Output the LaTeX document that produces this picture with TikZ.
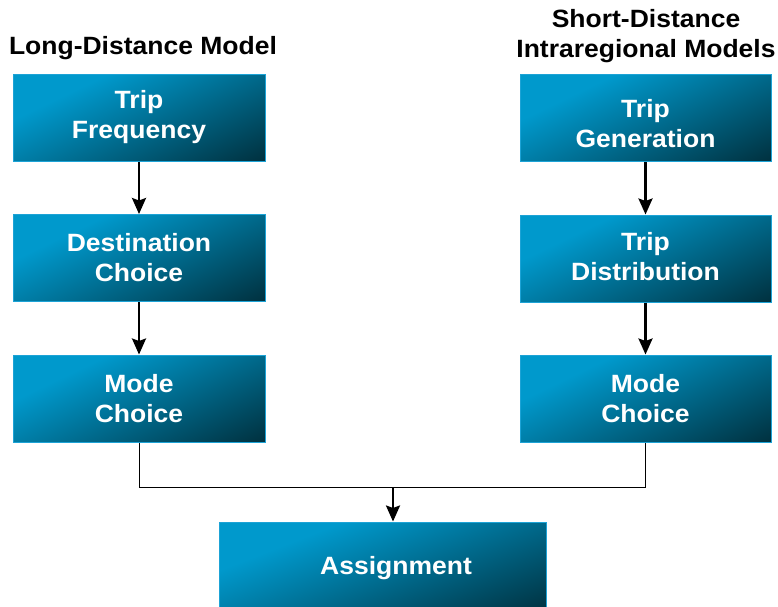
\documentclass[tikz,border=0pt]{standalone}
\usepackage{fontspec}
\setmainfont{Liberation Sans}[FakeStretch=1.06]
\usetikzlibrary{arrows.meta}

\definecolor{boxedge}{HTML}{1DA3D6}

% diagonal blue shading of the process boxes: light at the upper left,
% dark teal in the lower right corner (path spans 25bp..75bp)
\pgfdeclarefunctionalshading{boxshade}{\pgfpointorigin}{\pgfpoint{100bp}{100bp}}{}{
  25 sub 50 div 1 exch sub 0.42 mul
  exch 25 sub 50 div 0.58 mul add
  0.22 sub 0.78 div
  dup 0 lt {pop 0} if
  dup 1 gt {pop 1} if
  dup 0.41 mul 0.6 exch sub
  exch 0.555 mul 0.8 exch sub
  0 3 1 roll
}

\tikzset{
  stage/.style={draw=boxedge, line width=1pt, shading=boxshade,
    minimum width=252pt, minimum height=87pt, align=center, text=white,
    font=\bfseries\fontsize{25}{30}\selectfont, inner sep=0pt},
  heading/.style={align=center, text=black, font=\bfseries\fontsize{25}{30}\selectfont, inner sep=0pt},
  joinline/.style={line width=1pt, black},
  flow/.style={line width=2.5pt, black, -{Stealth[length=16pt,width=14pt,inset=2.5pt]}}
}

\begin{document}
\begin{tikzpicture}[x=1pt, y=-1pt]
  \useasboundingbox (0,0) rectangle (778,606);
  \clip (0,0) rectangle (778,606);

  % column headings
  \node[heading] (hl) at (143,48) {Long-Distance Model};
  \node[heading] (hr) at (646,36) {Short-Distance\\Intraregional Models};

  % long-distance chain
  \node[stage] (tf)  at (139,117.5) {Trip\\Frequency};
  \node[stage] (dc)  at (139,258)   {Destination\\Choice};
  \node[stage] (mcl) at (139,398.5) {Mode\\Choice};

  % short-distance chain
  \node[stage, minimum width=251pt] (tg)  at (645.5,118)   {\rule{0pt}{30pt}Trip\\Generation};
  \node[stage, minimum width=251pt] (td)  at (645.5,258.5) {Trip\\Distribution\rule[-5pt]{0pt}{0pt}};
  \node[stage, minimum width=251pt] (mcr) at (645.5,398.5) {Mode\\Choice};

  % shared assignment step
  \node[stage, minimum width=327pt, minimum height=92pt] (as) at (382.5,568) {\hspace*{27pt}Assignment};

  % vertical flows
  \draw[flow] (tf) -- (dc);
  \draw[flow] (dc) -- (mcl);
  \draw[flow] (tg) -- (td);
  \draw[flow] (td) -- (mcr);

  % join of both chains into assignment
  \coordinate (j) at (393,487);
  \draw[joinline] (mcl.south) |- (j) -| (mcr.south);
  \draw[flow] (j) -- (j |- as.north);
\end{tikzpicture}
\end{document}
